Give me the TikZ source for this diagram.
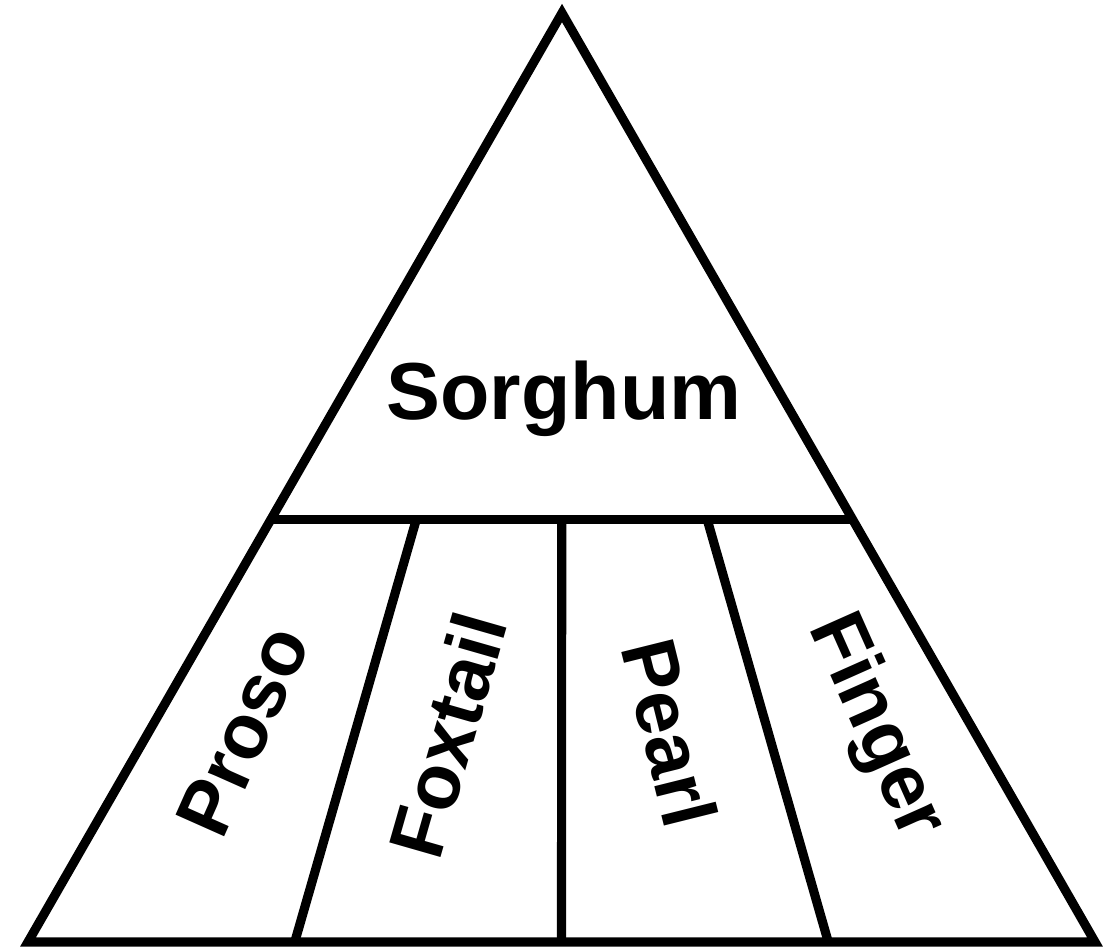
\documentclass[tikz,border=0pt]{standalone}
\usepackage{fontspec}
\setsansfont{Liberation Sans}
\usepackage{tikz}
\usetikzlibrary{calc}
\usetikzlibrary{positioning}
\tikzset{
    outline/.style={
           draw=black,
           line width=2.6pt,
           line join=miter,
           },
    cropname/.style={
           font=\sffamily\bfseries\fontsize{22}{26}\selectfont,
           inner sep=0pt,
           text centered,
           },
}

\begin{document}
\begin{tikzpicture}
	\useasboundingbox (0,0) rectangle (11.04,9.47);
	\coordinate (apex) at (5.62,9.34);
	\coordinate (bl) at (0.28,0.05);
	\coordinate (br) at (10.95,0.05);
	\coordinate (ml) at ($(bl)!0.455!(apex)$);
	\coordinate (mr) at ($(br)!0.455!(apex)$);
	
	%pyramid
	\draw[outline] (bl) -- (apex) -- (br) -- cycle;
	\draw[outline] (ml) -- (mr);
	\draw[outline] ($(ml)!0.25!(mr)$) -- ($(bl)!0.25!(br)$);
	\draw[outline] ($(ml)!0.5!(mr)$) -- ($(bl)!0.5!(br)$);
	\draw[outline] ($(ml)!0.75!(mr)$) -- ($(bl)!0.75!(br)$);
	
	%labels
	\node[cropname, anchor=base, font=\sffamily\bfseries\fontsize{23}{27}\selectfont] (sorghum) at (5.64,5.27) {Sorghum};
	\node[cropname, rotate=66] (proso) at (2.43,2.16) {Proso};
	\node[cropname, rotate=74] (foxtail) at (4.47,2.12) {Foxtail};
	\node[cropname, rotate=-76] (pearl) at (6.70,2.14) {Pearl};
	\node[cropname, rotate=-66] (finger) at (8.75,2.20) {Finger};
\end{tikzpicture}
\end{document}
